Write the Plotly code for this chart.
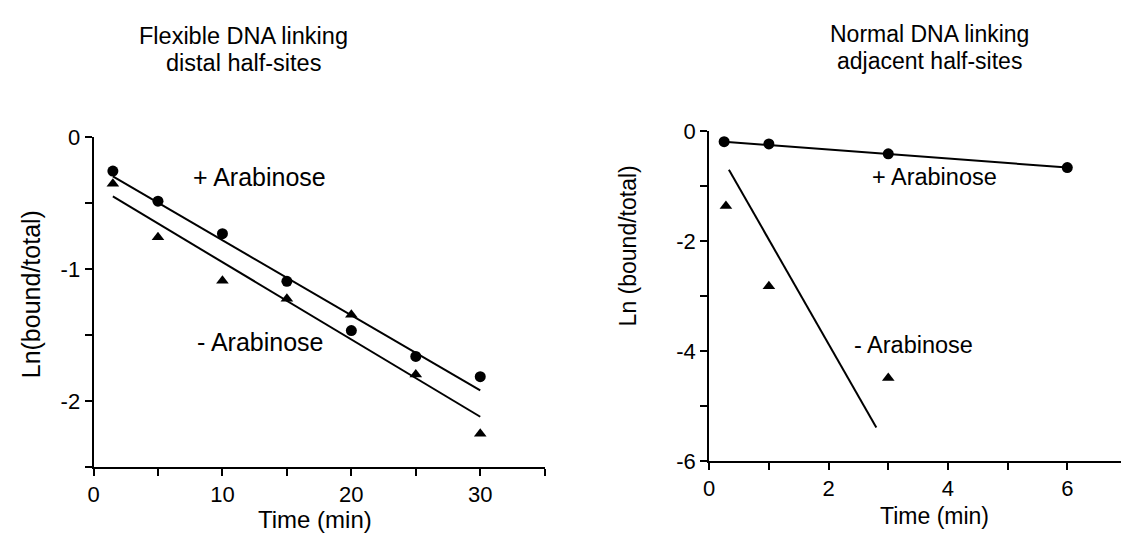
import plotly.graph_objects as go

W, H = 1121, 544

# ---- Left panel data: flexible DNA, distal half-sites ----
left_time = [1.5, 5, 10, 15, 20, 25, 30]
left_plus = [-0.255, -0.484, -0.730, -1.092, -1.466, -1.662, -1.816]
left_minus = [-0.351, -0.757, -1.087, -1.225, -1.346, -1.800, -2.250]
left_fit_time = [1.5, 30]
left_fit_plus = [-0.296, -1.920]
left_fit_minus = [-0.448, -2.120]

# ---- Right panel data: normal DNA, adjacent half-sites ----
right_time_plus = [0.25, 1, 3, 6]
right_plus = [-0.19, -0.23, -0.41, -0.66]
right_time_minus = [0.28, 1, 3]
right_minus = [-1.36, -2.82, -4.49]
right_fit_plus_time = [0.25, 6]
right_fit_plus = [-0.19, -0.66]
right_fit_minus_time = [0.33, 2.80]
right_fit_minus = [-0.70, -5.39]

# ---- Tick labels ----
left_xticks = [0, 5, 10, 15, 20, 25, 30, 35]
left_xtext = ["0", "", "10", "", "20", "", "30", ""]
left_yticks = [0, -0.5, -1, -1.5, -2, -2.5]
left_ytext = ["0", "", "-1", "", "-2", ""]
right_xticks = [0, 1, 2, 3, 4, 5, 6]
right_xtext = ["0", "", "2", "", "4", "", "6"]
right_yticks = [0, -1, -2, -3, -4, -5, -6]
right_ytext = ["0", "", "-2", "", "-4", "", "-6"]

FONT = "Liberation Sans, Arial, Helvetica, sans-serif"
BLACK = "#000000"

fig = go.Figure()

line_style = dict(color=BLACK, width=2)
circ = dict(symbol="circle", size=11, color=BLACK)
tri = dict(symbol="triangle-up", size=11, color=BLACK)

# Left panel
fig.add_trace(go.Scatter(x=left_fit_time, y=left_fit_plus, mode="lines", line=line_style,
                         xaxis="x", yaxis="y", showlegend=False))
fig.add_trace(go.Scatter(x=left_fit_time, y=left_fit_minus, mode="lines", line=line_style,
                         xaxis="x", yaxis="y", showlegend=False))
fig.add_trace(go.Scatter(x=left_time, y=left_plus, mode="markers", marker=circ,
                         xaxis="x", yaxis="y", showlegend=False))
fig.add_trace(go.Scatter(x=left_time, y=left_minus, mode="markers", marker=tri,
                         xaxis="x", yaxis="y", showlegend=False))

# Right panel
fig.add_trace(go.Scatter(x=right_fit_plus_time, y=right_fit_plus, mode="lines", line=line_style,
                         xaxis="x2", yaxis="y2", showlegend=False))
fig.add_trace(go.Scatter(x=right_fit_minus_time, y=right_fit_minus, mode="lines", line=line_style,
                         xaxis="x2", yaxis="y2", showlegend=False))
fig.add_trace(go.Scatter(x=right_time_plus, y=right_plus, mode="markers", marker=circ,
                         xaxis="x2", yaxis="y2", showlegend=False))
fig.add_trace(go.Scatter(x=right_time_minus, y=right_minus, mode="markers", marker=tri,
                         xaxis="x2", yaxis="y2", showlegend=False))

def axis_common(size):
    return dict(showline=True, linecolor=BLACK, linewidth=2, ticks="outside",
                ticklen=7, tickwidth=2, tickcolor=BLACK, showgrid=False, zeroline=False,
                tickfont=dict(family=FONT, size=size, color=BLACK), tickmode="array")

def px(x):
    return x / W

def py(y):
    return 1 - y / H

fig.update_layout(
    width=W, height=H,
    margin=dict(l=0, r=0, t=0, b=0),
    paper_bgcolor="white", plot_bgcolor="white",
    xaxis=dict(domain=[px(88), px(541.6)], range=[0, 35], anchor="y",
               tickvals=left_xticks, ticktext=left_xtext, **axis_common(22)),
    yaxis=dict(domain=[py(476.7), py(131.5)], range=[-2.5, 0], anchor="x",
               tickvals=left_yticks, ticktext=left_ytext, **axis_common(22)),
    xaxis2=dict(domain=[px(707), 1.0], range=[0, 6.9], anchor="y2",
                tickvals=right_xticks, ticktext=right_xtext, **axis_common(22)),
    yaxis2=dict(domain=[py(470.7), py(125)], range=[-6, 0], anchor="x2",
                tickvals=right_yticks, ticktext=right_ytext, **axis_common(22)),
)

def text_ann(text, x, y, size=23, xref="paper", yref="paper", angle=0):
    fig.add_annotation(text=text, x=x, y=y, xref=xref, yref=yref, showarrow=False,
                       xanchor="center", yanchor="middle", textangle=angle, borderpad=0,
                       font=dict(family=FONT, size=size, color=BLACK))

# Titles
text_ann("Flexible DNA linking", px(239), py(25), size=23.5)
text_ann("distal half-sites", px(239), py(53), size=23.5)
text_ann("Normal DNA linking", px(928), py(23), size=23)
text_ann("adjacent half-sites", px(928), py(51), size=23)

# Axis titles
text_ann("Ln(bound/total)", px(26), py(296), size=25, angle=-90)
text_ann("Time (min)", px(311), py(532), size=24)
text_ann("Ln (bound/total)", px(625), py(245), size=23, angle=-90)
text_ann("Time (min)", px(933), py(528), size=23)

# Series labels
text_ann("+ Arabinose", 12.85, -0.30, size=25, xref="x", yref="y")
text_ann("- Arabinose", 12.9, -1.55, size=25, xref="x", yref="y")
text_ann("+ Arabinose", 3.77, -0.84, size=23.5, xref="x2", yref="y2")
text_ann("- Arabinose", 3.43, -3.88, size=23.5, xref="x2", yref="y2")

fig.write_html("out.html", config={"displayModeBar": False},
               post_script="document.body.style.margin='0';")
